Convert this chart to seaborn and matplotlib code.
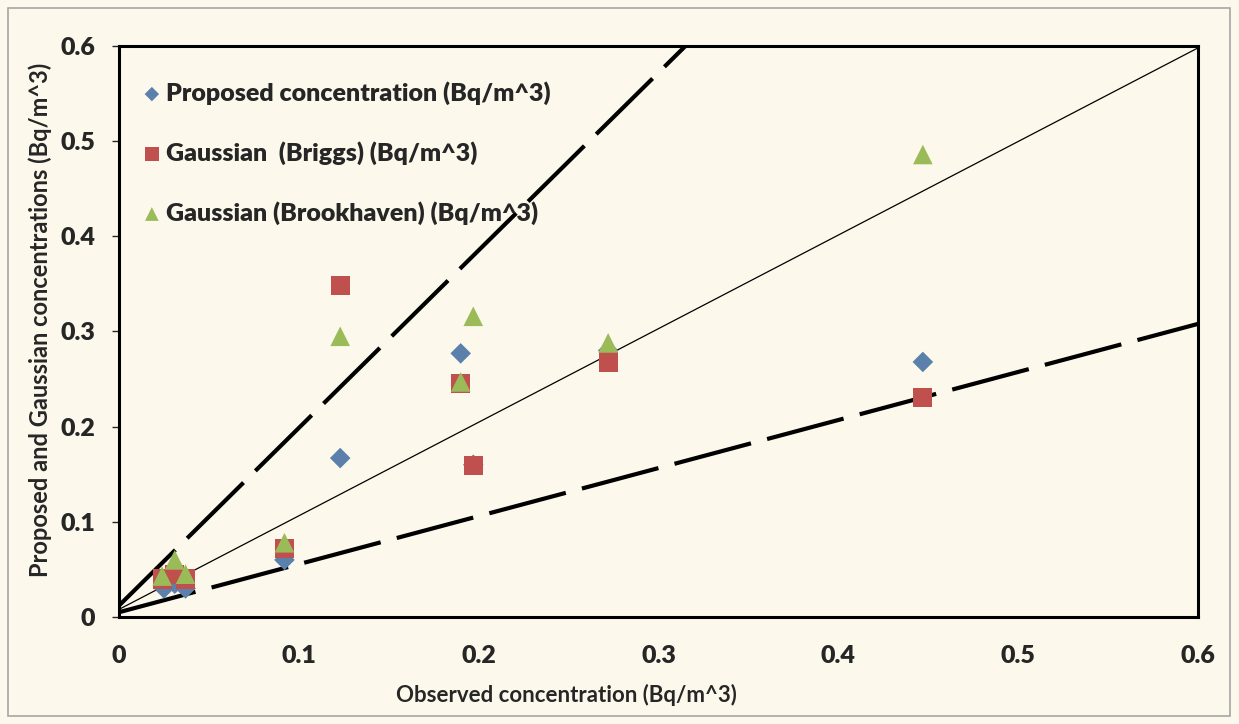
import numpy as np
import pandas as pd
import matplotlib
matplotlib.use('Agg')
import matplotlib.pyplot as plt
import seaborn as sns
from matplotlib.patches import Rectangle

# observed concentration (x) and the three model series (y)
proposed_x = [0.025, 0.037, 0.031, 0.092, 0.123, 0.19, 0.197, 0.272, 0.447]
proposed_y = [0.030, 0.030, 0.035, 0.060, 0.167, 0.277, 0.160, 0.280, 0.268]

briggs_x = [0.024, 0.031, 0.037, 0.092, 0.123, 0.19, 0.197, 0.272, 0.447]
briggs_y = [0.040, 0.045, 0.040, 0.072, 0.348, 0.245, 0.159, 0.268, 0.231]

brook_x = [0.024, 0.031, 0.037, 0.092, 0.123, 0.19, 0.197, 0.272, 0.447]
brook_y = [0.043, 0.060, 0.045, 0.078, 0.295, 0.247, 0.316, 0.288, 0.486]

series_names = ['Proposed concentration (Bq/m^3)',
                'Gaussian  (Briggs) (Bq/m^3)',
                'Gaussian (Brookhaven) (Bq/m^3)']

# reference lines (factor 2, 1:1, factor 0.5)
line2_x, line2_y = [0.0, 0.315], [0.012, 0.6]
line1_x, line1_y = [0.0, 0.6], [0.008, 0.598]
line05_x, line05_y = [0.0, 0.6], [0.005, 0.308]

df = pd.concat([
    pd.DataFrame({'x': proposed_x, 'y': proposed_y, 'series': series_names[0]}),
    pd.DataFrame({'x': briggs_x, 'y': briggs_y, 'series': series_names[1]}),
    pd.DataFrame({'x': brook_x, 'y': brook_y, 'series': series_names[2]}),
])

bg = '#FCF9EC'
sns.set_style('white')
plt.rcParams['font.family'] = ['Lato', 'DejaVu Sans']

fig = plt.figure(figsize=(12.39, 7.24), dpi=100, facecolor=bg)
fig.patches.append(Rectangle((8 / 1239, 8 / 724), 1222 / 1239, 708 / 724,
                             transform=fig.transFigure, fill=False,
                             edgecolor='#A6A6A6', linewidth=1.2))
ax = fig.add_axes([119 / 1239, 1 - 617 / 724, (1198 - 119) / 1239, (617 - 46) / 724])
ax.set_facecolor(bg)

ax.plot(line2_x, line2_y, color='black', lw=3.0, dashes=(19, 4), zorder=1)
ax.plot(line05_x, line05_y, color='black', lw=3.0, dashes=(19, 4), zorder=1)
ax.plot(line1_x, line1_y, color='black', lw=0.9, zorder=1)

palette = {series_names[0]: '#5B80AB', series_names[1]: '#C0504D', series_names[2]: '#9BBB59'}
markers = {series_names[0]: 'D', series_names[1]: 's', series_names[2]: '^'}
sizes = {series_names[0]: 110, series_names[1]: 190, series_names[2]: 200}

for name in series_names:
    sub = df[df['series'] == name]
    sns.scatterplot(data=sub, x='x', y='y', color=palette[name], marker=markers[name],
                    s=sizes[name], edgecolor='none', ax=ax, label=name, zorder=3)

ax.set_xlim(0, 0.6)
ax.set_ylim(0, 0.6)
ax.set_xticks(np.arange(0, 0.61, 0.1))
ax.set_yticks(np.arange(0, 0.61, 0.1))
ax.set_xticklabels(['0', '0.1', '0.2', '0.3', '0.4', '0.5', '0.6'])
ax.set_yticklabels(['0', '0.1', '0.2', '0.3', '0.4', '0.5', '0.6'])
ax.tick_params(axis='x', length=0, pad=20, labelsize=18)
ax.tick_params(axis='y', length=5, width=1, direction='out', pad=12, labelsize=18, left=True)
for lab in ax.get_xticklabels() + ax.get_yticklabels():
    lab.set_fontweight('heavy')
for sp in ax.spines.values():
    sp.set_linewidth(2.2)
    sp.set_color('black')

ax.set_xlabel('Observed concentration (Bq/m^3)', fontsize=16, fontweight='bold')
ax.xaxis.set_label_coords(0.415, -0.117)
ax.set_ylabel('Proposed and Gaussian concentrations (Bq/m^3)', fontsize=17, fontweight='bold')
ax.yaxis.set_label_coords(-0.062, 0.52)

leg = ax.legend(loc='upper left', bbox_to_anchor=(-0.002, 0.978), frameon=False,
                labelspacing=1.45, handletextpad=0.05, handlelength=1.0,
                markerscale=0.7, prop={'weight': 'heavy', 'size': 18})

fig.savefig('out.png', dpi=100, facecolor=bg)
